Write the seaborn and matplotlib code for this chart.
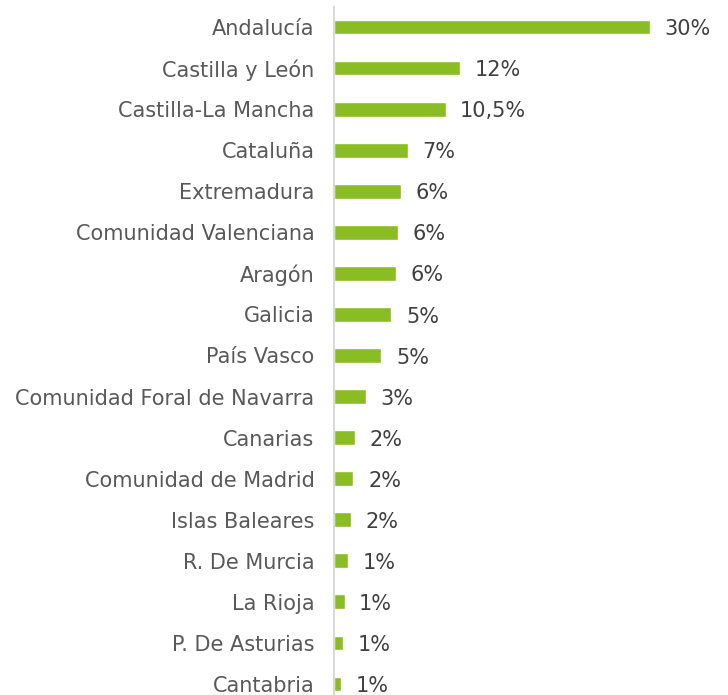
import matplotlib
matplotlib.use("Agg")
import matplotlib.pyplot as plt
import seaborn as sns
import pandas as pd

regions = ["Andalucía", "Castilla y León", "Castilla-La Mancha", "Cataluña",
           "Extremadura", "Comunidad Valenciana", "Aragón", "Galicia",
           "País Vasco", "Comunidad Foral de Navarra", "Canarias",
           "Comunidad de Madrid", "Islas Baleares", "R. De Murcia",
           "La Rioja", "P. De Asturias", "Cantabria"]
shares = [30.0, 12.0, 10.6, 7.0, 6.4, 6.1, 5.9, 5.45, 4.5, 3.0,
          1.95, 1.85, 1.6, 1.3, 1.0, 0.9, 0.7]
value_labels = ["30%", "12%", "10,5%", "7%", "6%", "6%", "6%", "5%", "5%",
                "3%", "2%", "2%", "2%", "1%", "1%", "1%", "1%"]

df = pd.DataFrame({"region": regions, "share": shares})

sns.set_theme(style="white")
plt.rcParams["font.family"] = ["DejaVu Sans"]

W, H = 728, 695
fig = plt.figure(figsize=(W / 100, H / 100), dpi=100)
left_px, top_px = 334, 7
width_px = 380
ax = fig.add_axes([left_px / W, 0, width_px / W, (H - top_px) / H])

sns.barplot(data=df, x="share", y="region", color="#8ABD24", saturation=1,
            width=0.36, ax=ax, orient="h")

px_per_unit = 10.52
ax.set_xlim(0, width_px / px_per_unit)
row = 41.06
ax.set_ylim((H - 27) / row, -(27 - top_px) / row)

anns = ax.bar_label(ax.containers[0], labels=value_labels, padding=10.5,
                    fontsize=15, color="#404040")
for a in anns:
    a.xyann = (10.5, -1.5)

ax.set_xlabel("")
ax.set_ylabel("")
ax.set_xticks([])
ax.tick_params(axis="y", length=0, pad=14, labelsize=15, labelcolor="#595959")
for s in ["top", "right", "bottom"]:
    ax.spines[s].set_visible(False)
ax.spines["left"].set_color("#D9D9D9")
ax.spines["left"].set_linewidth(1.5)

fig.savefig("out.png", dpi=100)
